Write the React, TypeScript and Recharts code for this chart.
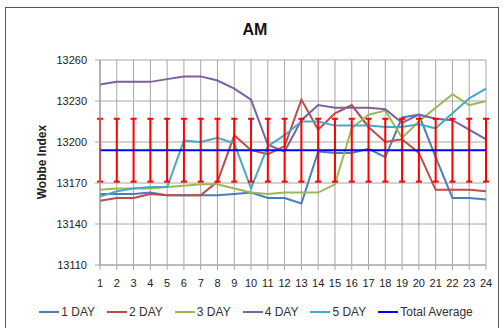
import { LineChart, Line, XAxis, YAxis, CartesianGrid, Legend, ErrorBar } from 'recharts';

const HOURS = ['1', '2', '3', '4', '5', '6', '7', '8', '9', '10', '11', '12', '13', '14', '15', '16', '17', '18', '19', '20', '21', '22', '23', '24'];

const DAY_1 = [13162, 13162, 13162, 13163, 13161, 13161, 13161, 13161, 13162, 13163, 13159, 13159, 13155, 13193, 13192, 13192, 13195, 13189, 13218, 13220, 13189, 13159, 13159, 13158];
const DAY_2 = [13157, 13159, 13159, 13162, 13161, 13161, 13161, 13171, 13205, 13194, 13191, 13197, 13231, 13209, 13221, 13227, 13211, 13200, 13202, 13192, 13165, 13165, 13165, 13164];
const DAY_3 = [13165, 13166, 13166, 13166, 13167, 13168, 13169, 13169, 13166, 13163, 13162, 13163, 13163, 13163, 13169, 13210, 13220, 13223, 13203, 13215, 13225, 13235, 13227, 13230];
const DAY_4 = [13242, 13244, 13244, 13244, 13246, 13248, 13248, 13245, 13239, 13231, 13198, 13193, 13216, 13227, 13225, 13225, 13225, 13224, 13214, 13220, 13217, 13216, 13209, 13202];
const DAY_5 = [13160, 13164, 13166, 13167, 13167, 13201, 13200, 13203, 13199, 13166, 13197, 13205, 13215, 13215, 13212, 13212, 13212, 13211, 13211, 13213, 13210, 13221, 13232, 13239];
const TOTAL_AVERAGE = [13194, 13194, 13194, 13194, 13194, 13194, 13194, 13194, 13194, 13194, 13194, 13194, 13194, 13194, 13194, 13194, 13194, 13194, 13194, 13194, 13194, 13194, 13194, 13194];
const AVERAGE_RANGE = [23, 23, 23, 23, 23, 23, 23, 23, 23, 23, 23, 23, 23, 23, 23, 23, 23, 23, 23, 23, 23, 23, 23, 23];

const Y_TICKS = [13110, 13140, 13170, 13200, 13230, 13260];

const SERIES = [
  { key: 'day1', name: '1 DAY', color: '#4A7EBB' },
  { key: 'day2', name: '2 DAY', color: '#BE4B48' },
  { key: 'day3', name: '3 DAY', color: '#98B954' },
  { key: 'day4', name: '4 DAY', color: '#7D60A0' },
  { key: 'day5', name: '5 DAY', color: '#46AAC5' },
];

const AVG_COLOR = '#0000FF';
const FONT = '"Liberation Sans", Arial, sans-serif';

const data = HOURS.map((hour, i) => ({
  hour,
  day1: DAY_1[i],
  day2: DAY_2[i],
  day3: DAY_3[i],
  day4: DAY_4[i],
  day5: DAY_5[i],
  avg: TOTAL_AVERAGE[i],
  range: AVERAGE_RANGE[i],
}));

const legendItems = [...SERIES.map((s) => ({ name: s.name, color: s.color })), { name: 'Total Average', color: AVG_COLOR }];

function renderLegend() {
  return (
    <div style={{ display: 'flex', justifyContent: 'center', fontFamily: FONT, fontSize: 12, color: '#333', lineHeight: '20px' }}>
      {legendItems.map((item) => (
        <span key={item.name} style={{ display: 'flex', alignItems: 'center', marginRight: 12 }}>
          <svg width={20} height={4}>
            <line x1={0} y1={2} x2={20} y2={2} stroke={item.color} strokeWidth={2} />
          </svg>
          <span style={{ marginLeft: 2 }}>{item.name}</span>
        </span>
      ))}
    </div>
  );
}

function YLabel() {
  return (
    <text x={43} y={162} transform="rotate(-90 43 162)" textAnchor="middle" dominantBaseline="middle" fontFamily={FONT} fontSize={12} fontWeight="bold" fill="#222">
      Wobbe Index
    </text>
  );
}

export default function App() {
  return (
    <div style={{ position: 'absolute', left: 0, top: 0, width: 504, height: 328, overflow: 'hidden', background: '#fff' }}>
      <div style={{ position: 'absolute', left: 5, top: 7, width: 492, height: 340, border: '1px solid #555' }} />
      <div style={{ position: 'absolute', left: 0, top: 21, width: 510, textAlign: 'center', fontFamily: FONT, fontSize: 16, fontWeight: 'bold', lineHeight: '18px', color: '#111' }}>
        AM
      </div>
      <LineChart width={504} height={328} data={data} margin={{ top: 60, right: 18, bottom: 13, left: 40 }} style={{ position: 'absolute', left: 0, top: 0 }}>
        <CartesianGrid stroke="#A6A6A6" strokeWidth={1} />
        <XAxis
          dataKey="hour"
          height={30}
          interval={0}
          tickSize={5}
          tickMargin={9}
          stroke="#A6A6A6"
          tick={{ fill: '#222', fontSize: 11, fontFamily: FONT }}
        />
        <YAxis
          width={60}
          domain={[13110, 13260]}
          ticks={Y_TICKS}
          tickSize={5}
          tickMargin={8}
          stroke="#A6A6A6"
          tick={{ fill: '#222', fontSize: 11, fontFamily: FONT }}
          label={{ content: () => <YLabel /> }}
        />
        {SERIES.map((s) => (
          <Line key={s.key} dataKey={s.key} name={s.name} stroke={s.color} strokeWidth={2} dot={false} isAnimationActive={false} />
        ))}
        <Line dataKey="avg" name="Total Average" stroke={AVG_COLOR} strokeWidth={2} dot={false} isAnimationActive={false}>
          <ErrorBar dataKey="range" direction="y" width={3} stroke="#FF0000" strokeWidth={2} isAnimationActive={false} />
        </Line>
        <Legend height={20} content={renderLegend} wrapperStyle={{ left: 10, width: 504, bottom: 6 }} />
      </LineChart>
    </div>
  );
}
